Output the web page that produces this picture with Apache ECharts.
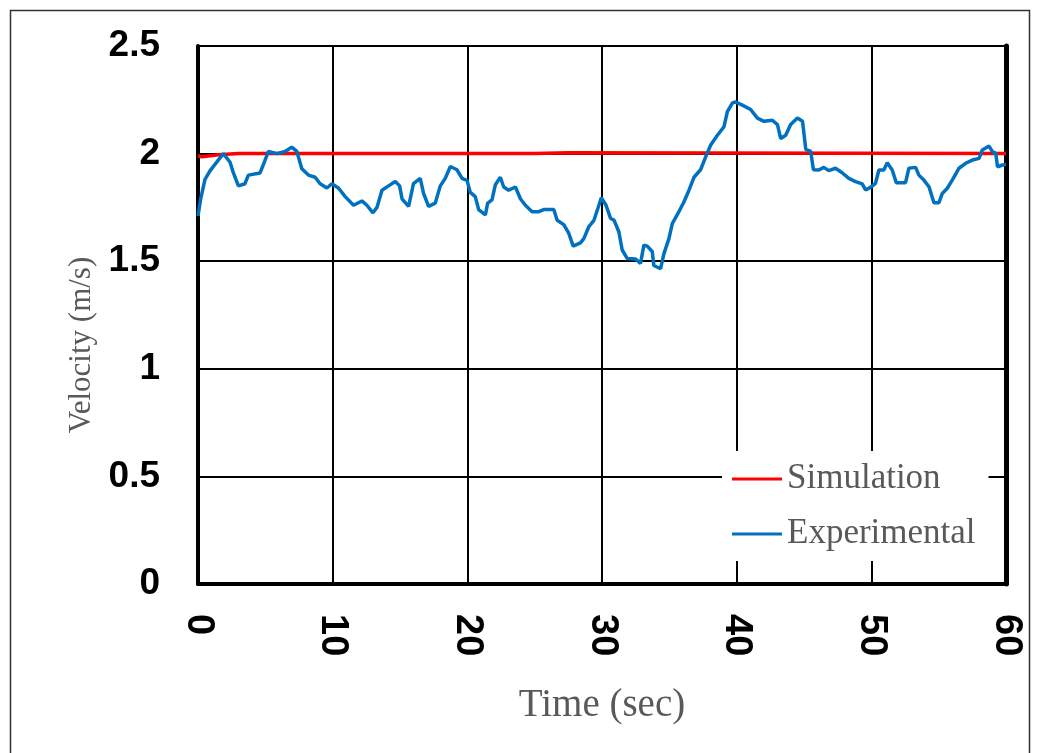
<!DOCTYPE html>
<html>
<head>
<meta charset="utf-8">
<script src="https://cdn.jsdelivr.net/npm/echarts@6/dist/echarts.min.js"></script>
<style>
html,body{margin:0;padding:0;background:#fff;}
#c{width:1041px;height:753px;}
</style>
</head>
<body>
<div id="c"></div>
<script>
// Tick settings
const xTicks = [0, 10, 20, 30, 40, 50, 60];
const yTicks = [0, 0.5, 1, 1.5, 2, 2.5];

// Simulation series (time in s, velocity in m/s)
const simTime = [0, 0.3, 1.5, 3, 25, 25.1, 27.5, 27.6, 60];
const simVel  = [1.99, 1.985, 1.995, 2.0, 2.0, 2.004, 2.004, 2.0, 2.0];

// Experimental series (time in s, velocity in m/s)
const expTime = [0, 0.2, 0.52, 0.89, 1.26, 1.88, 2.38, 2.63, 3.0, 3.49, 3.74, 4.61, 4.86, 5.23, 5.85, 6.47, 6.96, 7.34, 7.71, 8.2, 8.7, 9.07, 9.57, 9.94, 10.43, 10.93, 11.55, 12.17, 12.54, 12.99, 13.29, 13.66, 14.15, 14.65, 14.97, 15.15, 15.64, 16.0, 16.5, 16.75, 17.12, 17.62, 17.99, 18.36, 18.74, 19.23, 19.61, 19.98, 20.22, 20.59, 20.84, 21.34, 21.51, 21.83, 22.08, 22.45, 22.7, 23.07, 23.57, 23.94, 24.31, 24.81, 25.3, 25.67, 26.42, 26.67, 27.16, 27.53, 27.86, 28.4, 28.65, 29.02, 29.4, 29.77, 29.95, 30.3, 30.63, 30.9, 31.25, 31.5, 31.87, 32.49, 32.86, 33.11, 33.36, 33.73, 33.85, 34.35, 34.6, 34.97, 35.22, 35.71, 36.08, 36.46, 36.83, 37.32, 37.7, 38.07, 38.57, 39.06, 39.31, 39.68, 39.93, 40.42, 41.04, 41.54, 42.03, 42.65, 43.03, 43.27, 43.64, 44.01, 44.51, 44.89, 45.13, 45.5, 45.7, 46.1, 46.47, 46.84, 47.34, 47.83, 48.33, 48.83, 49.32, 49.57, 49.94, 50.31, 50.56, 50.93, 51.18, 51.55, 51.85, 52.54, 52.79, 53.29, 53.53, 53.9, 54.28, 54.65, 55.02, 55.27, 55.64, 56.01, 56.51, 57.0, 57.5, 58.0, 58.24, 58.74, 58.99, 59.24, 59.37, 59.74, 60];
const expVel  = [1.71, 1.79, 1.88, 1.92, 1.95, 2.0, 1.96, 1.91, 1.85, 1.86, 1.9, 1.91, 1.95, 2.01, 2.0, 2.01, 2.03, 2.01, 1.93, 1.9, 1.89, 1.86, 1.84, 1.86, 1.84, 1.8, 1.76, 1.78, 1.76, 1.725, 1.75, 1.83, 1.85, 1.87, 1.85, 1.79, 1.755, 1.86, 1.885, 1.815, 1.755, 1.77, 1.85, 1.885, 1.94, 1.925, 1.885, 1.875, 1.82, 1.8, 1.74, 1.715, 1.77, 1.785, 1.855, 1.89, 1.845, 1.83, 1.845, 1.79, 1.76, 1.73, 1.73, 1.74, 1.74, 1.69, 1.67, 1.63, 1.57, 1.585, 1.605, 1.66, 1.69, 1.76, 1.795, 1.76, 1.7, 1.69, 1.637, 1.552, 1.513, 1.51, 1.49, 1.575, 1.57, 1.545, 1.48, 1.465, 1.535, 1.605, 1.675, 1.73, 1.775, 1.83, 1.89, 1.925, 1.985, 2.04, 2.085, 2.125, 2.195, 2.235, 2.24, 2.225, 2.205, 2.165, 2.15, 2.155, 2.135, 2.07, 2.085, 2.135, 2.165, 2.15, 2.02, 2.01, 1.925, 1.924, 1.936, 1.921, 1.932, 1.911, 1.885, 1.87, 1.859, 1.831, 1.843, 1.862, 1.924, 1.924, 1.958, 1.924, 1.865, 1.865, 1.932, 1.936, 1.9, 1.877, 1.846, 1.772, 1.772, 1.815, 1.839, 1.877, 1.932, 1.955, 1.97, 1.978, 2.017, 2.035, 2.009, 2.001, 1.939, 1.947, 1.95];

const seriesNames = ['Simulation', 'Experimental'];

const zip = (a, b) => a.map((v, i) => [v, b[i]]);

const chart = echarts.init(document.getElementById('c'), null, {renderer: 'canvas'});
chart.setOption({
  animation: false,
  backgroundColor: '#fff',
  graphic: [{
    type: 'rect', silent: true, z: 100,
    shape: {x: 10.5, y: 10.5, width: 1019, height: 760},
    style: {fill: 'none', stroke: '#333', lineWidth: 1.5}
  }],
  grid: {left: 198, right: 35, top: 46, bottom: 169, containLabel: false},
  legend: {
    data: seriesNames,
    orient: 'vertical',
    left: 722, top: 451,
    padding: [8, 13, 7, 10],
    backgroundColor: '#fff',
    icon: 'rect',
    itemWidth: 50, itemHeight: 3,
    itemGap: 15,
    textStyle: {fontFamily: 'Liberation Serif', fontSize: 35, color: '#595959', lineHeight: 40}
  },
  xAxis: {
    type: 'value',
    min: xTicks[0], max: xTicks[xTicks.length - 1], interval: xTicks[1] - xTicks[0],
    axisLine: {show: true, lineStyle: {color: '#000', width: 4}},
    axisTick: {show: false},
    splitLine: {show: true, lineStyle: {color: '#000', width: 2}},
    axisLabel: {rotate: -90, margin: 30, fontFamily: 'Liberation Sans', fontWeight: 'bold', fontSize: 38, color: '#000'},
    name: 'Time (sec)', nameLocation: 'middle', nameGap: 102,
    nameTextStyle: {fontFamily: 'Liberation Serif', fontSize: 39, color: '#595959'}
  },
  yAxis: [{
    type: 'value',
    min: yTicks[0], max: yTicks[yTicks.length - 1], interval: yTicks[1] - yTicks[0],
    axisLine: {show: true, lineStyle: {color: '#000', width: 4}},
    axisTick: {show: false},
    splitLine: {show: true, lineStyle: {color: '#000', width: 2}},
    axisLabel: {margin: 38, fontFamily: 'Liberation Sans', fontWeight: 'bold', fontSize: 37, color: '#000'},
    name: 'Velocity (m/s)', nameLocation: 'middle', nameGap: 100, nameRotate: 90,
    nameTextStyle: {fontFamily: 'Liberation Serif', fontSize: 31, color: '#595959', padding: [0, 60, 0, 0]}
  }, {
    type: 'value', position: 'right',
    min: yTicks[0], max: yTicks[yTicks.length - 1], interval: yTicks[1] - yTicks[0],
    axisLine: {show: true, lineStyle: {color: '#000', width: 5}},
    axisTick: {show: false}, axisLabel: {show: false}, splitLine: {show: false}
  }],
  series: [{
    name: seriesNames[0], type: 'line', showSymbol: false, symbol: 'none',
    data: zip(simTime, simVel),
    lineStyle: {color: '#FF0000', width: 3.5}, itemStyle: {color: '#FF0000'}, z: 3
  }, {
    name: seriesNames[1], type: 'line', showSymbol: false, symbol: 'none',
    data: zip(expTime, expVel),
    lineStyle: {color: '#0070C0', width: 3.5}, itemStyle: {color: '#0070C0'}, z: 4
  }]
});
</script>
</body>
</html>
